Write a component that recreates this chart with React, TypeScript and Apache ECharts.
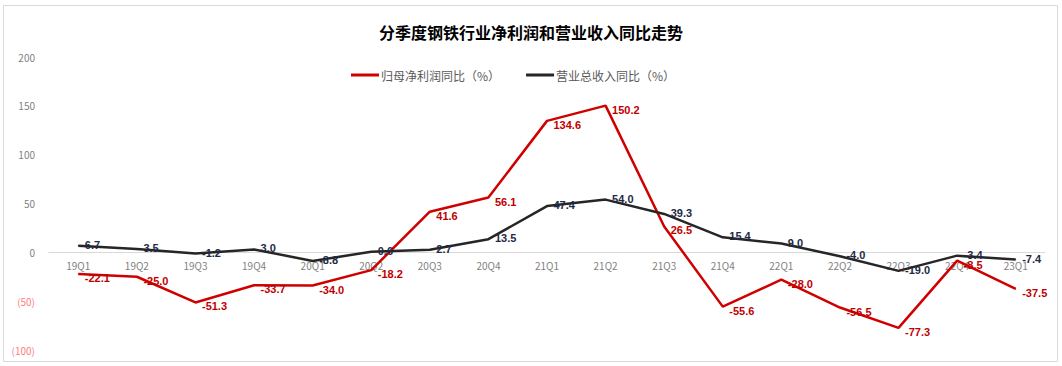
import React, { useEffect, useRef } from "react";
import * as echarts from "echarts";

const categories = ["19Q1","19Q2","19Q3","19Q4","20Q1","20Q2","20Q3","20Q4","21Q1","21Q2","21Q3","21Q4","22Q1","22Q2","22Q3","22Q4","23Q1"];
const netProfitYoY = [-22.1,-25.0,-51.3,-33.7,-34.0,-18.2,41.6,56.1,134.6,150.2,26.5,-55.6,-28.0,-56.5,-77.3,-8.5,-37.5];
const revenueYoY = [6.7,3.5,-1.2,3.0,-8.8,0.6,2.7,13.5,47.4,54.0,39.3,15.4,9.0,-4.0,-19.0,-3.4,-7.4];
const seriesNames = ["归母净利润同比（%）", "营业总收入同比（%）"];
const titleText = "分季度钢铁行业净利润和营业收入同比走势";

export default function App() {
  const ref = useRef<HTMLDivElement>(null);
  useEffect(() => {
    document.body.style.margin = "0";
    const chart = echarts.init(ref.current!, null, { renderer: "svg" });
    const font = "'Microsoft YaHei', 'Noto Sans CJK SC', sans-serif";
    const gridTop = 57;
    const gridBottom = 16;
    const plotH = 366 - gridTop - gridBottom;
    const yMin = -100;
    const yMax = 200;
    const zeroOffset = -(plotH * (0 - yMin)) / (yMax - yMin);
    const labelCommon = {
      show: true,
      position: "right",
      distance: 6,
      formatter: (p: any) => Number(p.value).toFixed(1),
      fontSize: 11,
      fontWeight: "bold",
      fontFamily: "Arial, 'Liberation Sans', sans-serif",
    };
    chart.setOption({
      animation: false,
      textStyle: { fontFamily: font },
      graphic: [
        {
          type: "rect",
          shape: { x: 3.5, y: 5.5, width: 1054, height: 356 },
          style: { fill: "none", stroke: "#d9d9d9", lineWidth: 1 },
          silent: true,
        },
      ],
      title: {
        text: titleText,
        left: "center",
        top: 19,
        textStyle: { fontSize: 16, fontWeight: "bold", color: "#000", fontFamily: font },
      },
      legend: {
        top: 64,
        left: 346,
        itemWidth: 28,
        itemHeight: 3,
        itemGap: 26,
        icon: "rect",
        textStyle: { fontSize: 12, color: "#595959", fontFamily: font, padding: [0, 0, 0, -3] },
        data: seriesNames,
      },
      grid: { left: 49, right: 17, top: gridTop, bottom: gridBottom, containLabel: false },
      xAxis: {
        type: "category",
        data: categories,
        boundaryGap: true,
        position: "bottom",
        offset: zeroOffset,
        axisLine: { onZero: false, lineStyle: { color: "#d9d9d9", width: 1 } },
        axisTick: { show: false },
        axisLabel: { color: "#7f7f7f", fontSize: 10, margin: 8, fontFamily: font },
      },
      yAxis: {
        type: "value",
        min: yMin,
        max: yMax,
        interval: 50,
        splitLine: { show: false },
        axisLine: { show: false },
        axisTick: { show: false },
        axisLabel: {
          fontSize: 10,
          margin: 14,
          fontFamily: font,
          formatter: (v: number) => (v < 0 ? "(" + Math.abs(v) + ")" : String(v)),
          color: (v: any) => (Number(v) < 0 ? "#ff7c80" : "#7f7f7f"),
        },
      },
      series: [
        {
          name: seriesNames[0],
          type: "line",
          data: netProfitYoY,
          symbol: "circle",
          symbolSize: 1,
          showSymbol: true,
          lineStyle: { color: "#d00000", width: 2.5 },
          itemStyle: { color: "#d00000" },
          label: { ...labelCommon, offset: [0, 4], color: "#c00000" },
          z: 3,
        },
        {
          name: seriesNames[1],
          type: "line",
          data: revenueYoY,
          symbol: "circle",
          symbolSize: 1,
          showSymbol: true,
          lineStyle: { color: "#262626", width: 2.5 },
          itemStyle: { color: "#262626" },
          label: { ...labelCommon, offset: [0, -1], color: "#1f2a44" },
          z: 4,
        },
      ],
    });
    return () => chart.dispose();
  }, []);
  return <div ref={ref} style={{ width: 1062, height: 366 }} />;
}
